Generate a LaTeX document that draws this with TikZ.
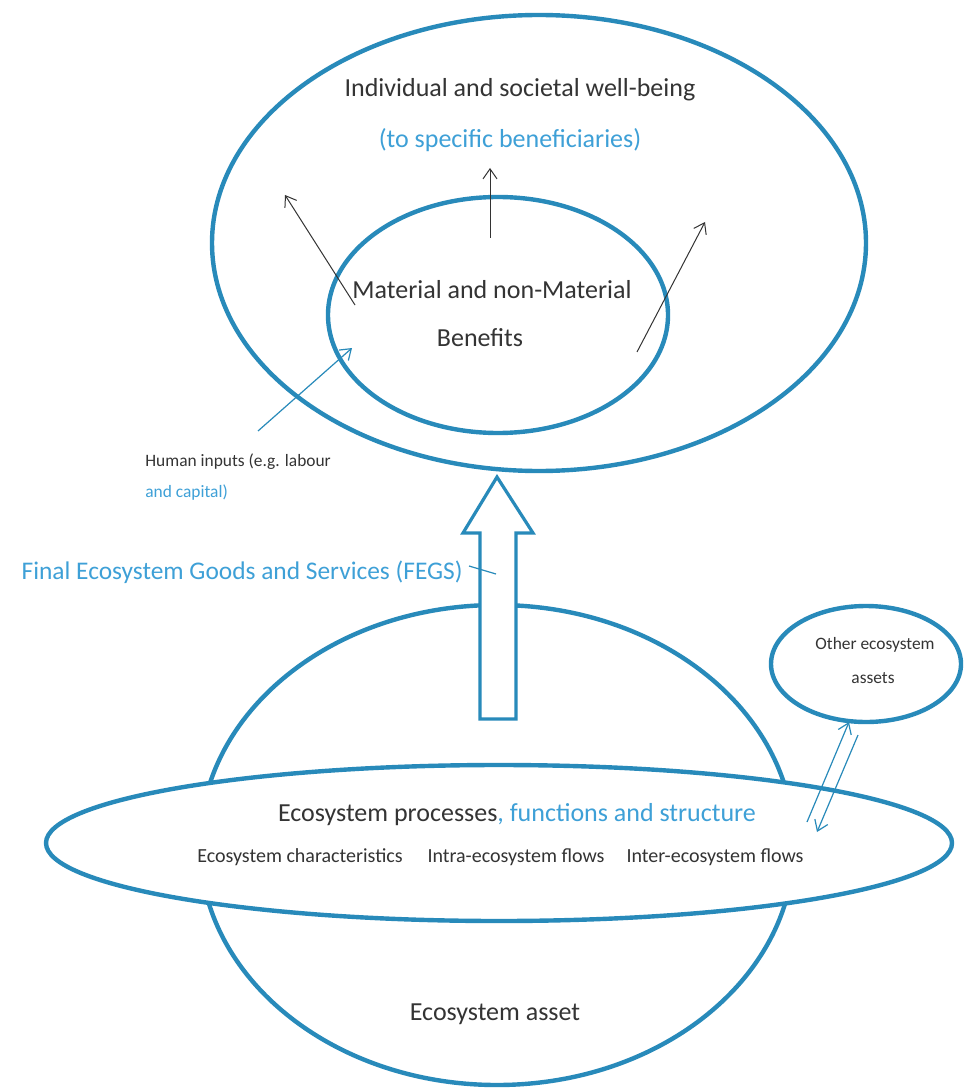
\documentclass[tikz,border=0pt]{standalone}
\usepackage{fontspec}
\setmainfont{Carlito}
\usetikzlibrary{shapes.geometric,arrows.meta}
\definecolor{ringblue}{RGB}{40,138,186}
\definecolor{txtblue}{RGB}{62,160,215}
\definecolor{txtgray}{RGB}{52,52,52}
\begin{document}
\begin{tikzpicture}[x=0.5pt,y=-0.5pt,
  ring/.style={ellipse,draw=ringblue,line width=2.2pt,inner sep=0pt},
  bigtxt/.style={text=txtgray,font=\fontsize{13}{15}\selectfont,inner sep=0pt},
  midtxt/.style={text=txtgray,font=\fontsize{10}{12}\selectfont,inner sep=0pt},
  smalltxt/.style={text=txtgray,font=\fontsize{8.7}{10}\selectfont,inner sep=0pt},
  thinarrow/.style={draw=black!80,line width=0.5pt,-{Straight Barb[length=5pt,width=7pt]}},
  bluearrow/.style={draw=ringblue,line width=0.6pt,-{Straight Barb[length=5pt,width=7pt]}},
  hollow/.style={draw=ringblue,line width=1.6pt,fill=white,line join=miter}
]
\useasboundingbox[fill=white] (0,0) rectangle (964,1091);

% top ellipses
\node[ring,minimum width=327pt,minimum height=228pt] (outer) at (539,243) {};
\node[ring,minimum width=170pt,minimum height=118pt] (inner) at (498,315) {};

\node[bigtxt] (wellbeing) at (520,90) {Individual and societal well-being};
\node[bigtxt,text=txtblue] (benef) at (510,140) {(to specific beneficiaries)};
\node[bigtxt] (mat1) at (492,290) {Material and non-Material};
\node[bigtxt] (mat2) at (480,338) {Benefits};

% thin black arrows
\coordinate (la0) at (355,305); \coordinate (la1) at (285,195);
\coordinate (ma0) at (490,238); \coordinate (ma1) at (490,168);
\coordinate (ra0) at (637,352); \coordinate (ra1) at (705,222);
\draw[thinarrow] (la0) -- (la1);
\draw[thinarrow] (ma0) -- (ma1);
\draw[thinarrow] (ra0) -- (ra1);

% human inputs
\node[smalltxt,anchor=west] (human1) at (145,462) {Human inputs (e.g. labour};
\node[smalltxt,anchor=west,text=txtblue] (human2) at (145,493) {and capital)};
\coordinate (hi0) at (258,431); \coordinate (hi1) at (352,348);
\draw[bluearrow] (hi0) -- (hi1);

% ecosystem asset
\node[ring,minimum width=297pt,minimum height=240pt] (asset) at (497,845) {};
\node[bigtxt] (assettxt) at (495,1014) {Ecosystem asset};

% hollow FEGS arrow
\coordinate (tip) at (497,477);
\coordinate (hl) at (463,533); \coordinate (hr) at (533,533);
\coordinate (sl) at (480,533); \coordinate (sr) at (516,533);
\coordinate (bl) at (480,719); \coordinate (br) at (516,719);
\draw[hollow] (tip) -- (hr) -- (sr) -- (br) -- (bl) -- (sl) -- (hl) -- cycle;

\node[bigtxt,text=txtblue,anchor=east,font=\fontsize{12.7}{15}\selectfont] (fegs) at (463,572) {Final Ecosystem Goods and Services (FEGS)};
\coordinate (fl0) at (469,566); \coordinate (fl1) at (496,574);
\draw[ringblue,line width=0.6pt] (fl0) -- (fl1);

% wide process ellipse
\node[ring,fill=white,minimum width=453pt,minimum height=78pt] (process) at (499,843) {};
\node[bigtxt] (proctxt) at (517,815) {Ecosystem processes\textcolor{txtblue}{, functions and structure}};
\node[midtxt] (char) at (300,857) {Ecosystem characteristics};
\node[midtxt] (intra) at (516,857) {Intra-ecosystem flows};
\node[midtxt] (inter) at (715,857) {Inter-ecosystem flows};

% other ecosystem assets
\node[ring,minimum width=95pt,minimum height=58pt] (other) at (866,664) {};
\node[smalltxt] (oth1) at (875,645) {Other ecosystem};
\node[smalltxt] (oth2) at (873,678) {assets};

\coordinate (da0) at (807,822); \coordinate (da1) at (849,722);
\coordinate (db0) at (858,735); \coordinate (db1) at (817,832);
\draw[bluearrow] (da0) -- (da1);
\draw[bluearrow] (db0) -- (db1);
\end{tikzpicture}
\end{document}
